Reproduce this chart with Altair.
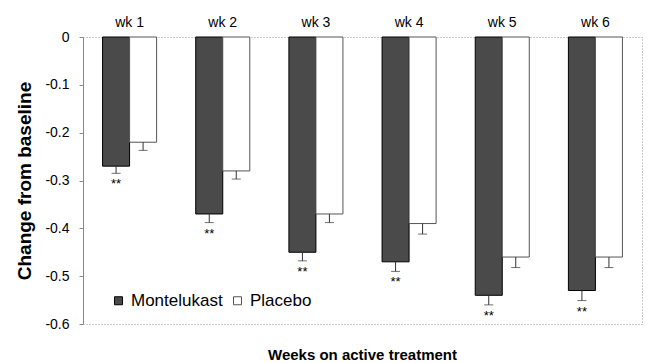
import altair as alt
import pandas as pd

weeks = ["wk 1", "wk 2", "wk 3", "wk 4", "wk 5", "wk 6"]
series = ["Montelukast", "Placebo"]
montelukast = [-0.27, -0.37, -0.45, -0.47, -0.54, -0.53]
placebo = [-0.22, -0.28, -0.37, -0.39, -0.46, -0.46]
montelukast_err = [0.015, 0.018, 0.018, 0.02, 0.02, 0.021]
placebo_err = [0.017, 0.017, 0.018, 0.022, 0.022, 0.022]
sig = ["**", "**", "**", "**", "**", "**"]

rows = []
for i, w in enumerate(weeks):
    rows.append({"week": w, "series": "Montelukast", "value": montelukast[i],
                 "low": montelukast[i] - montelukast_err[i], "sig": sig[i]})
    rows.append({"week": w, "series": "Placebo", "value": placebo[i],
                 "low": placebo[i] - placebo_err[i], "sig": ""})
df = pd.DataFrame(rows)

FONT = "Liberation Sans"

x_enc = alt.X("week:N", sort=weeks,
              scale=alt.Scale(paddingInner=0.42, paddingOuter=0.21),
              axis=alt.Axis(orient="top", title=None, labelAngle=0, ticks=False,
                            domain=False, labelFontSize=14, labelPadding=8,
                            labelColor="black", labelFont=FONT))
xo_enc = alt.XOffset("series:N", sort=series,
                     scale=alt.Scale(paddingInner=0, paddingOuter=0))
y_axis = alt.Axis(title="Change from baseline", values=[0, -0.1, -0.2, -0.3, -0.4, -0.5, -0.6],
                  labelExpr="datum.value == 0 ? '0' : '-' + format(abs(datum.value), '.1f')",
                  grid=False, tickSize=4, tickColor="#888", domainColor="#888",
                  labelFontSize=14, labelColor="black", labelPadding=10, labelFont=FONT,
                  titleFontSize=19, titleFontWeight="bold", titleColor="black",
                  titleFont=FONT, titlePadding=10)
y_scale = alt.Scale(domain=[-0.6, 0], nice=False, zero=False)

base = alt.Chart(df)

bars = base.mark_bar(strokeWidth=1).encode(
    x=x_enc, xOffset=xo_enc,
    y=alt.Y("value:Q", scale=y_scale, axis=y_axis),
    fill=alt.Fill("series:N", sort=series,
                  scale=alt.Scale(domain=series, range=["#4a4a4a", "white"]),
                  legend=alt.Legend(title=None, orient="none", legendX=27, legendY=255,
                                    direction="horizontal", symbolType="square",
                                    symbolSize=64, symbolStrokeColor="black",
                                    symbolStrokeWidth=1, labelFontSize=17,
                                    labelFont=FONT, labelColor="black", labelOffset=4,
                                    columnPadding=6, padding=0)),
    stroke=alt.Stroke("series:N", sort=series,
                      scale=alt.Scale(domain=series, range=["black", "#555"]),
                      legend=None),
)

err = base.mark_rule(color="#333", strokeWidth=1).encode(
    x=x_enc, xOffset=xo_enc,
    y=alt.Y("value:Q", scale=y_scale, axis=y_axis),
    y2="low:Q",
)

caps = base.mark_tick(color="#333", size=9, thickness=1, orient="horizontal").encode(
    x=x_enc, xOffset=xo_enc,
    y=alt.Y("low:Q", scale=y_scale, axis=y_axis),
)

stars = base.mark_text(baseline="top", dy=5, fontSize=13, font=FONT, color="black").encode(
    x=x_enc, xOffset=xo_enc,
    y=alt.Y("low:Q", scale=y_scale, axis=y_axis),
    text="sig:N",
)

chart = alt.layer(bars, err, caps, stars).properties(
    width=559, height=287,
    autosize=alt.AutoSizeParams(type="none"),
    padding={"left": 75, "top": 29, "right": 1, "bottom": 39},
    title=alt.TitleParams("Weeks on active treatment", orient="bottom", anchor="middle",
                          fontSize=15, fontWeight="bold", font=FONT, color="black",
                          offset=17),
).configure_view(
    stroke="#999", strokeDash=[1, 2], strokeWidth=1
)

chart.save("out.html", embed_options={"renderer": "svg", "actions": False})
